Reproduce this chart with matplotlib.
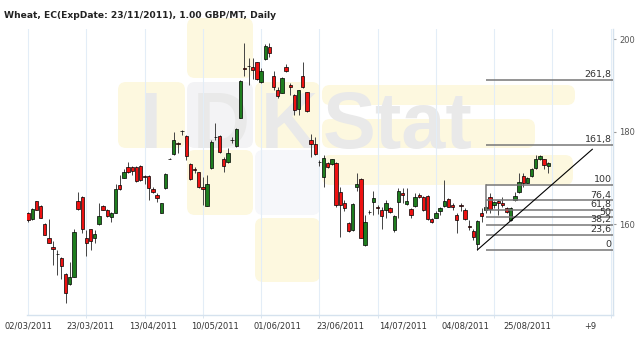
import numpy as np
import matplotlib
matplotlib.use("Agg")
import matplotlib.pyplot as plt
from matplotlib.patches import FancyBboxPatch

# daily OHLC (GBP/MT)
opens = [162.4, 161.1, 165.0, 164.0, 160.1, 157.0, 155.2, 153.7, 152.7, 149.3,
         147.2, 148.7, 165.0, 166.0, 157.0, 159.0, 157.1, 160.0, 164.0, 163.1,
         161.5, 162.5, 168.5, 170.1, 172.3, 172.3, 172.45, 172.6, 170.4, 170.4,
         167.6, 166.3, 162.5, 167.9, 174.2, 175.1, 177.5, 180.2, 179.1, 173.0,
         171.9, 171.2, 168.1, 164.0, 172.1, 178.9, 179.1, 174.0, 173.5, 178.2,
         176.8, 183.0, 193.7, 194.2, 194.0, 195.0, 190.8, 195.6, 198.3, 192.0,
         189.0, 188.4, 194.0, 190.1, 187.9, 185.0, 192.0, 188.5, 178.1, 177.3,
         173.5, 170.3, 173.2, 172.95, 173.3, 167.0, 164.7, 160.2, 158.8, 168.1,
         169.7, 155.5, 162.7, 164.9, 163.7, 163.1, 163.1, 163.6, 158.8, 164.9,
         166.7, 164.3, 163.3, 164.0, 166.3, 166.0, 166.1, 161.1, 161.4, 162.9,
         164.0, 165.5, 164.2, 162.0, 164.1, 163.1, 159.6, 158.6, 155.8, 162.5,
         163.1, 166.0, 164.2, 165.0, 164.7, 163.45, 160.9, 165.25, 167.0, 170.4,
         169.0, 170.4, 172.1, 174.0, 174.0, 172.6]
highs = [162.7, 163.5, 165.1, 164.1, 160.2, 161.1, 156.5, 154.5, 152.9, 149.4,
         151.9, 159.1, 167.0, 166.1, 158.8, 159.1, 158.8, 164.7, 164.1, 163.3,
         162.7, 168.7, 170.6, 171.9, 173.4, 172.5, 172.6, 172.8, 170.7, 170.6,
         168.1, 166.7, 164.7, 171.0, 174.3, 180.0, 177.8, 180.4, 179.2, 173.2,
         172.3, 171.4, 170.3, 170.6, 178.2, 181.9, 179.2, 174.5, 176.4, 178.8,
         180.7, 191.2, 199.2, 195.8, 195.8, 195.1, 193.7, 198.9, 199.1, 193.0,
         189.7, 191.7, 194.7, 190.6, 188.1, 189.1, 195.1, 188.6, 179.6, 178.9,
         173.9, 175.0, 173.5, 174.2, 173.5, 168.0, 165.2, 160.4, 164.5, 171.0,
         170.0, 162.0, 163.1, 167.2, 164.2, 163.7, 165.2, 163.8, 162.0, 167.8,
         167.8, 167.9, 163.5, 166.7, 166.7, 166.1, 166.3, 161.3, 162.9, 163.8,
         169.6, 165.6, 164.7, 162.4, 164.5, 163.45, 160.9, 159.1, 160.9, 163.45,
         164.0, 166.7, 165.1, 165.25, 165.8, 163.8, 163.8, 167.05, 171.0, 171.0,
         170.3, 172.1, 174.96, 174.96, 174.2, 173.5]
lows = [160.4, 160.9, 163.1, 161.3, 157.6, 155.9, 151.2, 149.1, 148.1, 143.1,
        147.0, 148.6, 163.2, 158.1, 153.2, 154.5, 156.0, 159.9, 163.0, 161.5,
        160.6, 162.4, 167.4, 169.9, 171.0, 170.6, 169.2, 169.4, 168.8, 165.3,
        166.7, 164.9, 162.4, 167.6, 174.0, 175.0, 175.3, 179.3, 173.9, 169.6,
        171.0, 167.8, 164.2, 163.9, 171.9, 178.2, 175.5, 171.2, 173.3, 177.6,
        176.6, 182.9, 192.0, 190.1, 191.3, 191.2, 190.6, 195.5, 196.2, 189.1,
        187.2, 188.3, 192.9, 187.9, 183.6, 183.6, 189.4, 184.3, 174.6, 175.0,
        172.6, 168.1, 172.2, 172.8, 163.8, 157.2, 162.9, 158.4, 158.6, 167.3,
        157.0, 155.4, 162.2, 162.0, 162.2, 159.1, 161.3, 162.4, 158.4, 161.3,
        164.5, 164.2, 161.3, 163.8, 165.6, 162.9, 161.0, 160.2, 161.3, 162.0,
        163.8, 163.7, 163.2, 158.1, 162.95, 160.9, 158.8, 156.6, 154.5, 160.6,
        162.5, 162.4, 163.45, 162.0, 163.8, 162.4, 160.8, 165.1, 166.8, 168.1,
        168.85, 170.3, 171.9, 173.9, 171.9, 171.0]
closes = [160.9, 163.3, 163.2, 161.4, 157.7, 156.0, 154.6, 153.6, 151.0, 145.1,
          148.6, 158.3, 163.4, 159.1, 156.0, 156.4, 158.0, 161.8, 163.1, 161.8,
          162.4, 167.6, 167.6, 171.2, 171.2, 171.5, 169.4, 169.6, 170.2, 167.8,
          166.9, 165.7, 164.5, 170.8, 174.1, 178.3, 177.4, 180.1, 174.75, 169.7,
          171.8, 168.0, 167.6, 168.7, 177.8, 178.8, 175.7, 172.6, 175.3, 178.1,
          180.5, 191.0, 193.6, 194.1, 193.4, 191.3, 193.2, 198.5, 196.9, 189.6,
          187.7, 191.5, 193.1, 189.6, 184.7, 189.0, 189.6, 184.5, 177.3, 175.1,
          173.4, 174.4, 172.4, 174.0, 164.2, 164.2, 163.6, 158.6, 164.4, 168.7,
          157.1, 160.6, 162.6, 165.6, 163.6, 161.7, 164.7, 162.6, 161.7, 167.2,
          166.3, 165.0, 162.0, 165.9, 165.8, 163.1, 161.1, 160.4, 162.5, 163.6,
          165.0, 163.8, 163.7, 160.9, 164.0, 161.2, 159.5, 157.2, 160.8, 161.9,
          163.7, 163.3, 164.9, 164.5, 164.1, 162.7, 163.45, 166.2, 169.1, 169.0,
          170.1, 171.9, 174.2, 174.7, 172.8, 173.3]

date_labels = ["02/03/2011", "23/03/2011", "13/04/2011", "10/05/2011", "01/06/2011",
               "23/06/2011", "14/07/2011", "04/08/2011", "25/08/2011", "+9"]
label_step = 15
grid_step = 14

# fibonacci drawing
fib_low = 154.5
fib_high = 168.5
fib_start = 110
fib_levels = [0, 23.6, 38.2, 50, 61.8, 76.4, 100, 161.8, 261.8]
trend_x = [108, 135.6]
trend_y = [154.5, 176.2]

W, H = 641, 339
fig = plt.figure(figsize=(W / 100, H / 100), dpi=100)
fig.patch.set_facecolor("white")

# watermark logo behind the chart (pixel coords)
bg = fig.add_axes([0, 0, 1, 1], zorder=0)
bg.set_xlim(0, W)
bg.set_ylim(H, 0)
bg.axis("off")
yel = "#fdf8df"
gry = "#f3f3f5"
boxes = [(187, 18, 253, 78, yel), (118, 82, 185, 148, yel), (187, 82, 253, 148, gry),
         (255, 82, 320, 148, yel), (187, 150, 253, 215, yel), (255, 150, 320, 215, "#f6f7fa"),
         (255, 218, 320, 282, yel),
         (322, 85, 575, 105, yel), (322, 119, 535, 148, yel), (322, 155, 573, 185, yel)]
r = 8
for x0, y0, x1, y1, c in boxes:
    bg.add_patch(FancyBboxPatch((x0 + r, y0 + r), x1 - x0 - 2 * r, y1 - y0 - 2 * r,
                                boxstyle="round,pad=%d" % r, fc=c, ec="none"))
for txt, lx in [("I", 140), ("D", 193), ("K", 261), ("Stat", 323)]:
    bg.text(lx, 148, txt, fontsize=57, fontweight="bold", family="Liberation Sans",
            color="#e9e9e9", ha="left", va="baseline")

fig.text(4 / W, 1 - 16 / H, "Wheat, EC(ExpDate: 23/11/2011), 1.00 GBP/MT, Daily",
         fontsize=6.6, fontweight="bold", color="#222222", va="center", ha="left")

ax = fig.add_axes([26.7 / W, 24 / H, (612.7 - 26.7) / W, (315 - 29) / H], zorder=1)
ax.set_facecolor("none")

n = len(opens)
x = np.arange(n)
o = np.array(opens)
c = np.array(closes)
cols = np.where(c >= o, "#1e7d1e", "#ee1111")
ax.vlines(x, lows, highs, color="#444444", lw=0.7, zorder=2)
ax.bar(x, np.maximum(np.abs(c - o), 0.08), bottom=np.minimum(o, c), width=0.8,
       color=cols, edgecolor="black", linewidth=0.5, zorder=3)

# vertical grid
for gx in range(0, 141, grid_step):
    ax.axvline(gx, color="#e3edf7", lw=0.8, zorder=0)

# fibonacci levels
rng = fib_high - fib_low
for lv in fib_levels:
    yv = fib_low + rng * lv / 100
    ax.plot([fib_start, 140.5], [yv, yv], color="#777777", lw=1.1, zorder=4,
            solid_capstyle="butt")
    ax.annotate(("%g" % lv).replace(".", ","), (140.2, yv), xytext=(0, 0.5),
                textcoords="offset points", ha="right", va="bottom",
                fontsize=6.8, color="#333333", zorder=5)
ax.plot([fib_start, fib_start], [fib_high, fib_low + rng * 0.618], color="#777777",
        lw=1.1, zorder=4)
ax.plot(trend_x, trend_y, color="black", lw=0.8, zorder=4)

ax.set_xlim(-0.35, 140.5)
ax.set_ylim(140.43, 202.16)

ax.set_xticks(np.arange(len(date_labels)) * label_step)
ax.set_xticklabels(date_labels, fontsize=6, color="#333333")
ax.set_xticks(range(0, 141, grid_step), minor=True)
ax.tick_params(axis="x", which="major", length=0, pad=5)
ax.tick_params(axis="x", which="minor", length=2, color="#d5e2ee")

ax.yaxis.tick_right()
ax.set_yticks([160, 180, 200])
ax.tick_params(axis="y", length=2.5, color="#999999", labelsize=6, labelcolor="#555555", pad=2)

for s in ["top", "left"]:
    ax.spines[s].set_visible(False)
for s in ["bottom", "right"]:
    ax.spines[s].set_color("#d5e2ee")
    ax.spines[s].set_linewidth(1)

fig.savefig("out.png", dpi=100)
